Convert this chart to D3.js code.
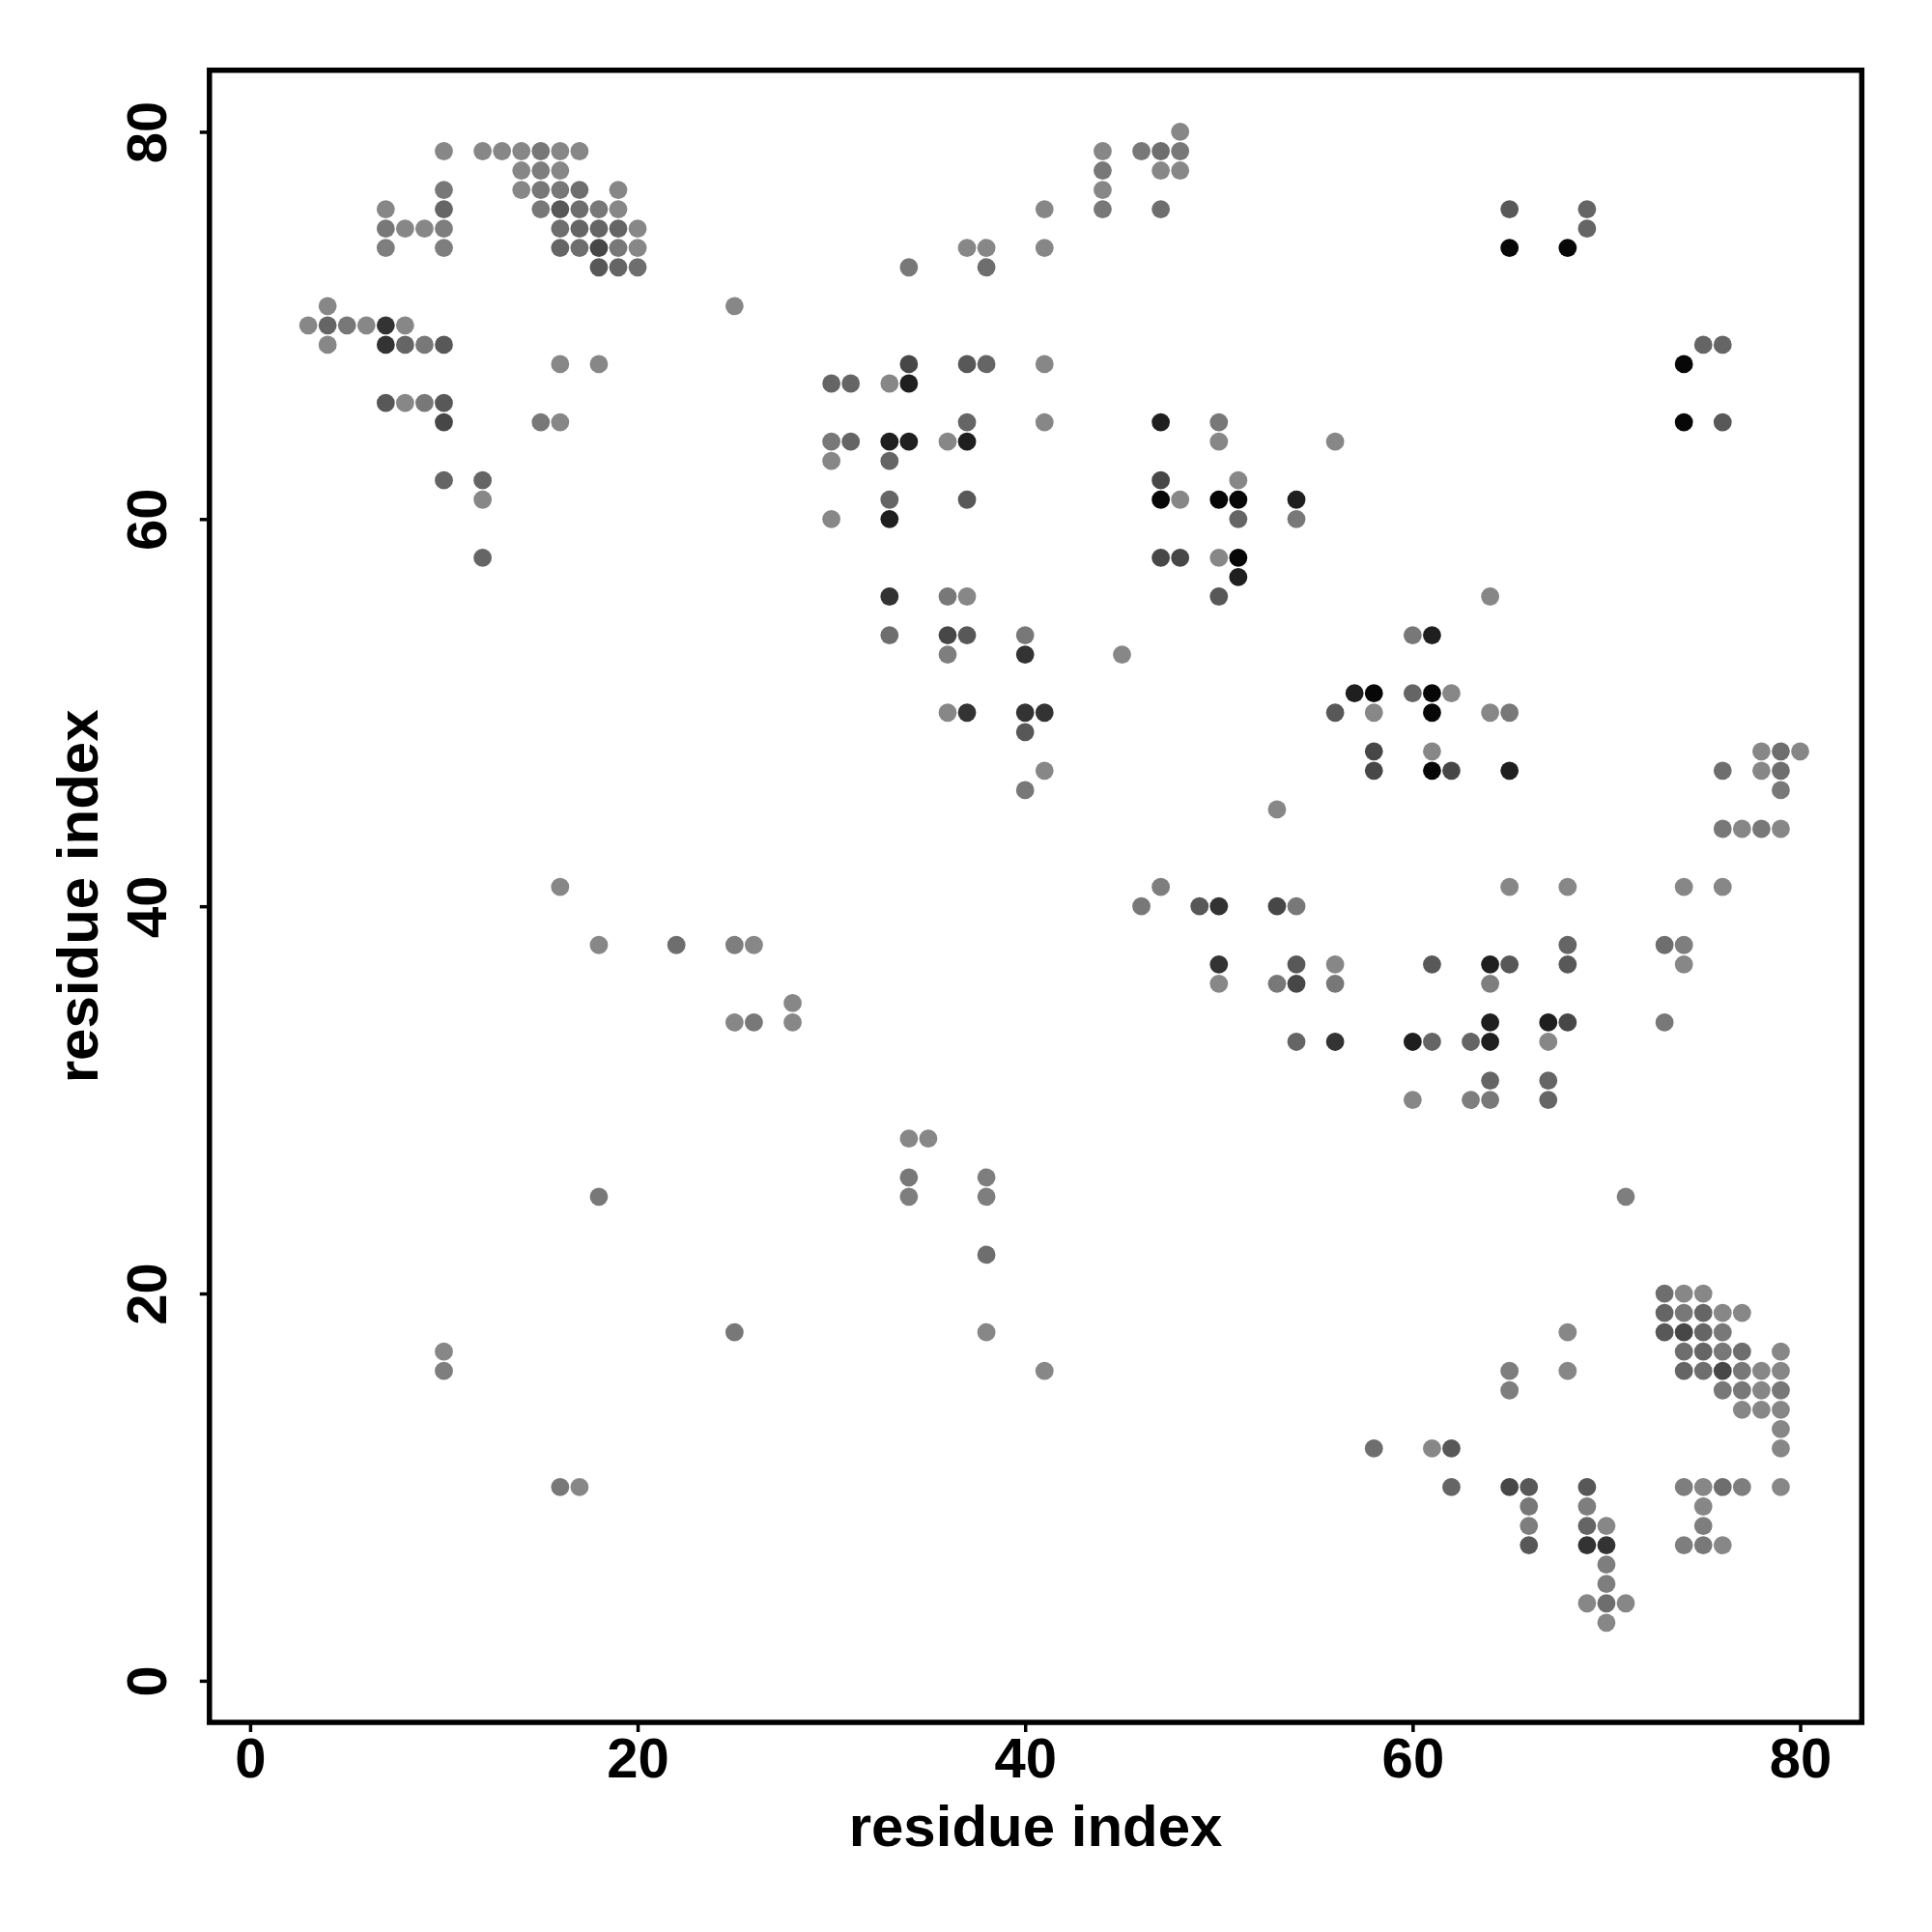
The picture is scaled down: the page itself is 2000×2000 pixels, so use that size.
<!DOCTYPE html>
<html>
<head>
<meta charset="utf-8">
<script src="https://cdn.jsdelivr.net/npm/d3@7/dist/d3.min.js"></script>
<style>
  html, body { margin: 0; padding: 0; background: #ffffff; }
  svg { display: block; }
  text { font-family: "Liberation Sans", Arial, Helvetica, sans-serif; font-weight: bold; }
</style>
</head>
<body>
<svg id="chart" width="2000" height="2000"></svg>
<script>
// ---- data: contact map (residue i on x, residue j on y, contact score 0..1) ----
const rowJ = [80,79,78,77,76,75,74,73,71,70,69,68,67,66,65,64,63,62,61,60,58,57,56,54,53,51,50,49,48,47,46,45,44,41,40,38,37,36,35,34,33,31,30,28,26,25,22,20,19,18,17,16,15,14,13,12,10,9,8,7,6,5,4,3];

const rowI = [
  [48],
  [10,12,13,14,15,16,17,44,46,47,48],
  [14,15,16,44,47,48],
  [10,14,15,16,17,19,44],
  [7,10,15,16,17,18,19,41,44,47,65,69],
  [7,8,9,10,16,17,18,19,20,69],
  [7,10,16,17,18,19,20,37,38,41,65,68],
  [18,19,20,34,38],
  [4,25],
  [3,4,5,6,7,8],
  [4,7,8,9,10,75,76],
  [16,18,34,37,38,41,74],
  [30,31,33,34],
  [7,8,9,10],
  [10,15,16,37,41,47,50,74,76],
  [30,31,33,34,36,37,50,56],
  [30,33],
  [10,12,47,51],
  [12,33,37,47,48,50,51,54],
  [30,33,51,54],
  [12,47,48,50,51],
  [51],
  [33,36,37,50,64],
  [33,36,37,40,60,61],
  [36,40,45],
  [57,58,60,61,62],
  [36,37,40,41,56,58,61,64,65],
  [40],
  [58,61,78,79,80],
  [41,58,61,62,65,76,78,79],
  [40,79],
  [53],
  [76,77,78,79],
  [16,47,65,68,74,76],
  [46,49,50,53,54],
  [18,22,25,26,68,73,74],
  [50,54,56,61,64,65,68,74],
  [50,53,54,56,64],
  [28],
  [25,26,28,64,67,68,73],
  [54,56,60,61,63,64,67],
  [64,67],
  [60,63,64,67],
  [34,35],
  [34,38],
  [18,34,38,71],
  [38],
  [73,74,75],
  [73,74,75,76,77],
  [25,38,68,73,74,75,76],
  [10,74,75,76,77,79],
  [10,41,65,68,74,75,76,77,78,79],
  [65,76,77,78,79],
  [77,78,79],
  [79],
  [58,61,62,79],
  [16,17,62,65,66,69,74,75,76,77,79],
  [66,69,75],
  [66,69,70,75],
  [66,69,70,74,75,76],
  [70],
  [70],
  [69,70,71],
  [70]
];

const rowScore = [
  [.03],
  [.03,.03,.03,.03,.14,.03,.03,.03,.14,.21,.14],
  [.03,.09,.03,.14,.03,.03],
  [.14,.03,.14,.14,.21,.03,.03],
  [.03,.27,.14,.37,.21,.14,.03,.03,.14,.21,.37,.27],
  [.14,.03,.03,.09,.21,.27,.27,.27,.03,.27],
  [.09,.09,.27,.21,.49,.14,.03,.03,.03,.03,.95,.95],
  [.37,.27,.21,.14,.21],
  [.03,.03],
  [.03,.27,.14,.03,.63,.03],
  [.03,.63,.27,.14,.37,.27,.27],
  [.03,.03,.49,.37,.27,.03,.95],
  [.27,.27,.03,.78],
  [.37,.03,.14,.37],
  [.49,.14,.03,.27,.03,.78,.14,.95,.37],
  [.14,.27,.78,.78,.03,.78,.03,.03],
  [.03,.27],
  [.27,.27,.49,.03],
  [.03,.27,.37,.95,.03,.95,.95,.78],
  [.03,.78,.27,.14],
  [.27,.49,.49,.03,.95],
  [.78],
  [.63,.14,.03,.37,.03],
  [.21,.49,.37,.14,.14,.78],
  [.09,.63,.03],
  [.78,.95,.27,.95,.03],
  [.03,.63,.63,.63,.37,.03,.95,.03,.14],
  [.37],
  [.49,.03,.03,.21,.03],
  [.03,.49,.95,.49,.78,.21,.03,.21],
  [.14,.14],
  [.03],
  [.14,.03,.14,.03],
  [.03,.09,.03,.03,.03,.03],
  [.14,.37,.63,.49,.14],
  [.03,.21,.09,.03,.27,.21,.09],
  [.63,.37,.03,.37,.78,.37,.37,.03],
  [.03,.14,.49,.14,.09],
  [.03],
  [.03,.14,.03,.78,.78,.49,.14],
  [.27,.63,.78,.27,.27,.78,.03],
  [.27,.27],
  [.03,.09,.14,.27],
  [.03,.03],
  [.14,.09],
  [.14,.09,.09,.09],
  [.21],
  [.21,.03,.03],
  [.27,.14,.27,.03,.03],
  [.14,.03,.03,.37,.49,.27,.14],
  [.03,.21,.27,.14,.21,.03],
  [.09,.03,.09,.03,.27,.21,.49,.14,.03,.03],
  [.09,.14,.14,.03,.14],
  [.03,.03,.03],
  [.03],
  [.21,.03,.37,.03],
  [.14,.03,.27,.49,.37,.37,.09,.03,.21,.09,.03],
  [.14,.09,.03],
  [.09,.27,.03,.09],
  [.37,.63,.63,.09,.14,.03],
  [.09],
  [.09],
  [.03,.21,.03],
  [.03]
];

const xTicks = [0, 20, 40, 60, 80];
const yTicks = [0, 20, 40, 60, 80];
const xTitle = "residue index";
const yTitle = "residue index";

// ---- build point table ----
const points = [];
rowJ.forEach((j, r) => {
  rowI[r].forEach((i, k) => points.push({ i: i, j: j, s: rowScore[r][k] }));
});

// ---- layout ----
const svg = d3.select("#chart");
const box = { left: 216.8, right: 1927.3, top: 72.7, bottom: 1783 };

const x = d3.scaleLinear().domain([-2.1, 83.18]).range([box.left, box.right]);
const y = d3.scaleLinear().domain([-2.15, 83.18]).range([box.bottom, box.top]);
const shade = d3.scaleLinear().domain([0, 1]).range(["#8b8b8b", "#000000"]);

// points
svg.append("g")
  .selectAll("circle")
  .data(points)
  .join("circle")
  .attr("cx", d => x(d.i))
  .attr("cy", d => y(d.j))
  .attr("r", 9.4)
  .attr("fill", d => shade(d.s));

// x axis
const gx = svg.append("g")
  .attr("transform", `translate(0,${box.bottom})`)
  .call(d3.axisBottom(x).tickValues(xTicks).tickSize(10).tickFormat(d3.format("d")));
gx.select(".domain").remove();
gx.selectAll(".tick line").attr("stroke", "#000").attr("stroke-width", 3.5);
gx.selectAll(".tick text")
  .attr("y", 57).attr("dy", null)
  .attr("fill", "#000")
  .style("font-size", "58px");

// y axis
const gy = svg.append("g")
  .attr("transform", `translate(${box.left},0)`)
  .call(d3.axisLeft(y).tickValues(yTicks).tickSize(10).tickFormat(d3.format("d")));
gy.select(".domain").remove();
gy.selectAll(".tick line").attr("stroke", "#000").attr("stroke-width", 3.5);
gy.selectAll(".tick text")
  .attr("x", 0).attr("y", -44.8).attr("dy", null)
  .attr("transform", "rotate(-90)")
  .attr("text-anchor", "middle")
  .attr("fill", "#000")
  .style("font-size", "58px");

// frame
svg.append("rect")
  .attr("x", box.left).attr("y", box.top)
  .attr("width", box.right - box.left).attr("height", box.bottom - box.top)
  .attr("fill", "none").attr("stroke", "#000").attr("stroke-width", 5.5);

// titles
svg.append("text")
  .attr("x", (box.left + box.right) / 2).attr("y", 1911)
  .attr("text-anchor", "middle")
  .style("font-size", "60px")
  .text(xTitle);

svg.append("text")
  .attr("transform", `translate(101,${(box.top + box.bottom) / 2}) rotate(-90)`)
  .attr("text-anchor", "middle")
  .style("font-size", "60px")
  .text(yTitle);
</script>
</body>
</html>
